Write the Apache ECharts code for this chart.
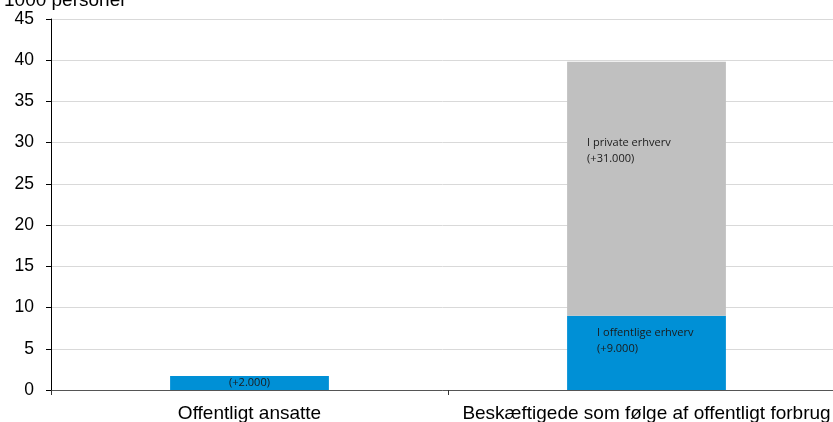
<!DOCTYPE html>
<html>
<head>
<meta charset="utf-8">
<script src="https://cdn.jsdelivr.net/npm/echarts@6/dist/echarts.min.js"></script>
<style>html,body{margin:0;padding:0;background:#fff;}#c{width:833px;height:422px;}</style>
</head>
<body>
<div id="c"></div>
<script>
var categories = ['Offentligt ansatte', 'Beskæftigede som følge af offentligt forbrug'];
var offentligeValues = [1.7, 9.0];
var privateValues = [null, 30.8];
var offentligeLabels = ['(+2.000)', 'I offentlige erhverv\n(+9.000)'];
var privateLabels = ['', 'I private erhverv\n(+31.000)'];
var yTicks = [0, 5, 10, 15, 20, 25, 30, 35, 40, 45];

var chart = echarts.init(document.getElementById('c'));
var labelFont = {fontFamily: 'Open Sans, Lato, sans-serif', fontSize: 11, color: '#1a1a1a', lineHeight: 16};
chart.setOption({
  animation: false,
  title: {
    text: '1000 personer', left: -1, top: -14,
    textStyle: {fontFamily: 'Liberation Sans, Arial', fontSize: 19, fontWeight: 'normal', color: '#000'}
  },
  grid: {left: 51, top: 19, width: 794, height: 371, outerBoundsMode: 'none', containLabel: false},
  xAxis: {
    type: 'category', data: categories,
    axisLine: {lineStyle: {color: '#555', width: 1}},
    axisTick: {show: true, length: 5, lineStyle: {color: '#333'}},
    axisLabel: {interval: 0, hideOverlap: false, overflow: 'none', fontFamily: 'Liberation Sans, Arial', fontSize: 19, color: '#000', margin: 14}
  },
  yAxis: {
    type: 'value', min: yTicks[0], max: yTicks[yTicks.length - 1], interval: 5,
    axisLine: {show: true, lineStyle: {color: '#000', width: 1}},
    axisTick: {show: true, length: 5, lineStyle: {color: '#000'}},
    splitLine: {lineStyle: {color: '#d9d9d9', width: 1}},
    axisLabel: {fontFamily: 'Liberation Sans, Arial', fontSize: 17.5, color: '#000', margin: 17}
  },
  series: [
    {
      type: 'bar', stack: 'a', barWidth: '40%',
      itemStyle: {color: '#0090d6'},
      data: offentligeValues.map(function (v, i) {
        return {
          value: v,
          label: i === 0
            ? Object.assign({show: true, position: 'inside', formatter: offentligeLabels[i]}, labelFont)
            : Object.assign({show: true, position: [30, 9], formatter: offentligeLabels[i]}, labelFont)
        };
      })
    },
    {
      type: 'bar', stack: 'a', barWidth: '40%',
      itemStyle: {color: '#c0c0c0'},
      data: privateValues.map(function (v, i) {
        return {
          value: v,
          label: Object.assign({show: !!privateLabels[i], position: [20, 73], formatter: privateLabels[i]}, labelFont)
        };
      })
    }
  ]
});
</script>
</body>
</html>
